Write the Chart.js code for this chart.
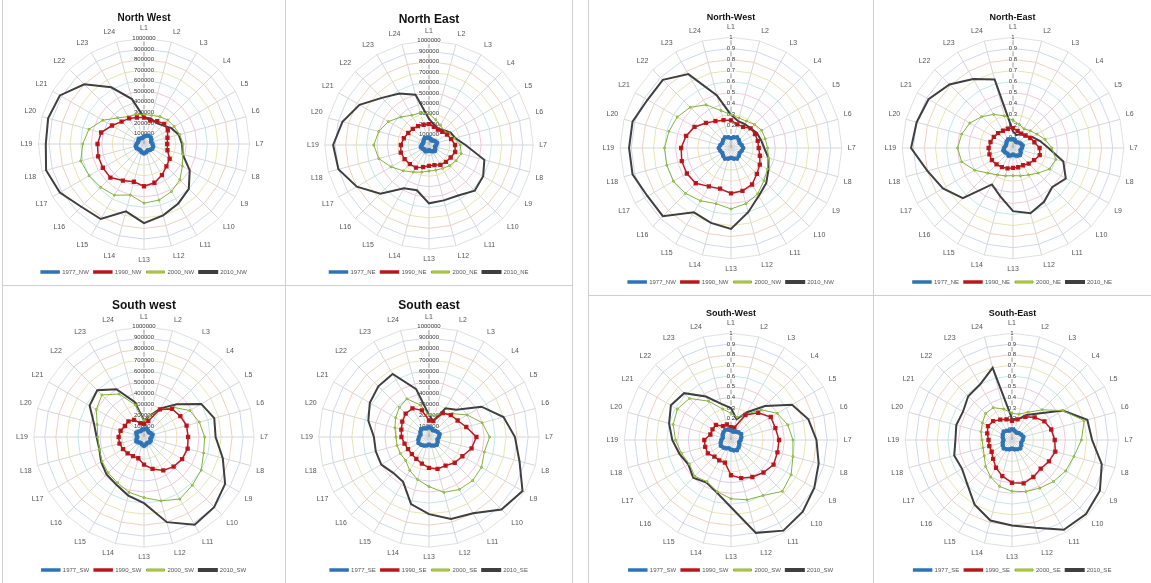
<!DOCTYPE html>
<html>
<head>
<meta charset="utf-8">
<script src="https://cdn.jsdelivr.net/npm/chart.js@4.4.1/dist/chart.umd.min.js"></script>
<style>
  body { margin: 0; background: #fff; width: 1151px; height: 583px; overflow: hidden; position: relative; font-family: "Liberation Sans", Arial, sans-serif; }
  .panel { position: absolute; border: 1px solid #cfcfcf; box-sizing: border-box; background: #fff; }
  .panel canvas { position: absolute; left: 0; top: 0; }
</style>
</head>
<body>
<div class="panel" style="left:2px;top:-1px;width:284px;height:287px"><canvas id="nwL" width="282" height="285"></canvas></div>
<div class="panel" style="left:285px;top:-1px;width:288px;height:287px"><canvas id="neL" width="286" height="285"></canvas></div>
<div class="panel" style="left:2px;top:285px;width:284px;height:299px"><canvas id="swL" width="282" height="297"></canvas></div>
<div class="panel" style="left:285px;top:285px;width:288px;height:299px"><canvas id="seL" width="286" height="297"></canvas></div>

<div class="panel" style="left:588px;top:-1px;width:286px;height:297px"><canvas id="nwR" width="284" height="295"></canvas></div>
<div class="panel" style="left:873px;top:-1px;width:279px;height:297px"><canvas id="neR" width="277" height="295"></canvas></div>
<div class="panel" style="left:588px;top:295px;width:286px;height:289px"><canvas id="swR" width="284" height="287"></canvas></div>
<div class="panel" style="left:873px;top:295px;width:279px;height:289px"><canvas id="seR" width="277" height="287"></canvas></div>

<script>
// spokes
const labels = ['L1','L2','L3','L4','L5','L6','L7','L8','L9','L10','L11','L12',
                'L13','L14','L15','L16','L17','L18','L19','L20','L21','L22','L23','L24'];
const years = ['1977', '1990', '2000', '2010'];

// left group, values in thousands
const nwL_1977 = [70, 80, 90, 90, 80, 70, 80, 90, 90, 80, 70, 80, 90, 80, 70, 70, 80, 80, 70, 60, 60, 70, 60, 60];
const nwL_1990 = [250, 230, 250, 270, 260, 230, 220, 230, 280, 300, 340, 380, 400, 370, 400, 450, 450, 450, 440, 420, 350, 300, 280, 260];
const nwL_2000 = [280, 280, 300, 320, 330, 350, 370, 380, 420, 480, 520, 550, 560, 500, 560, 580, 600, 620, 580, 540, 450, 350, 300, 290];
const nwL_2010 = [250, 250, 230, 250, 300, 340, 360, 380, 500, 600, 650, 700, 750, 660, 820, 840, 920, 960, 930, 940, 920, 800, 620, 440];

const neL_1977 = [70, 60, 50, 60, 70, 80, 70, 60, 70, 80, 70, 60, 50, 60, 70, 60, 70, 80, 70, 60, 60, 70, 80, 70];
const neL_1990 = [200, 180, 170, 180, 200, 220, 250, 260, 240, 230, 220, 200, 200, 220, 250, 260, 270, 280, 270, 250, 230, 220, 210, 200];
const neL_2000 = [300, 250, 220, 200, 220, 250, 300, 320, 300, 280, 260, 250, 250, 270, 300, 350, 420, 500, 530, 500, 450, 380, 330, 320];
const neL_2010 = [250, 200, 180, 200, 240, 260, 350, 550, 600, 620, 560, 550, 560, 450, 480, 660, 800, 900, 920, 860, 770, 640, 570, 500];

const swL_1977 = [70, 80, 70, 60, 70, 80, 70, 60, 70, 70, 60, 70, 80, 70, 60, 70, 80, 70, 60, 70, 80, 70, 60, 70];
const swL_1990 = [120, 150, 290, 360, 380, 400, 400, 410, 400, 380, 350, 300, 250, 200, 200, 210, 220, 230, 230, 220, 200, 200, 180, 130];
const swL_2000 = [150, 200, 280, 380, 480, 520, 550, 560, 600, 620, 650, 600, 550, 520, 480, 460, 440, 420, 420, 440, 500, 540, 450, 300];
const swL_2010 = [150, 200, 300, 420, 600, 660, 650, 740, 850, 900, 920, 800, 600, 550, 500, 480, 450, 420, 430, 470, 570, 600, 500, 330];

const seL_1977 = [90, 80, 70, 80, 90, 100, 90, 80, 90, 100, 90, 80, 70, 80, 90, 100, 110, 100, 90, 80, 90, 100, 90, 80];
const seL_1990 = [150, 150, 250, 280, 300, 350, 430, 400, 350, 330, 300, 300, 280, 250, 230, 220, 220, 230, 250, 260, 280, 300, 300, 250];
const seL_2000 = [200, 200, 250, 300, 400, 500, 550, 520, 550, 560, 550, 520, 450, 400, 350, 300, 300, 300, 300, 320, 350, 380, 400, 300];
const seL_2010 = [200, 150, 300, 350, 550, 700, 780, 850, 980, 930, 800, 770, 700, 630, 470, 460, 500, 500, 500, 570, 620, 650, 660, 450];

// right group, shares 0..1
const nwR_1977 = [0.09, 0.10, 0.11, 0.10, 0.09, 0.10, 0.11, 0.10, 0.09, 0.10, 0.11, 0.10, 0.09, 0.10, 0.11, 0.10, 0.09, 0.10, 0.11, 0.10, 0.09, 0.10, 0.11, 0.10];
const nwR_1990 = [0.25, 0.22, 0.22, 0.25, 0.25, 0.25, 0.25, 0.27, 0.30, 0.33, 0.38, 0.40, 0.41, 0.38, 0.40, 0.45, 0.46, 0.46, 0.45, 0.42, 0.38, 0.32, 0.28, 0.26];
const nwR_2000 = [0.30, 0.28, 0.28, 0.30, 0.32, 0.32, 0.33, 0.35, 0.38, 0.42, 0.48, 0.52, 0.55, 0.52, 0.55, 0.58, 0.60, 0.60, 0.60, 0.58, 0.56, 0.52, 0.45, 0.35];
const nwR_2010 = [0.30, 0.25, 0.25, 0.25, 0.27, 0.28, 0.30, 0.35, 0.39, 0.45, 0.50, 0.60, 0.73, 0.70, 0.67, 0.87, 0.87, 0.92, 0.92, 0.92, 0.87, 0.87, 0.77, 0.49];

const neR_1977 = [0.08, 0.07, 0.06, 0.07, 0.08, 0.09, 0.08, 0.07, 0.08, 0.09, 0.08, 0.07, 0.06, 0.07, 0.08, 0.07, 0.08, 0.09, 0.08, 0.07, 0.07, 0.08, 0.09, 0.08];
const neR_1990 = [0.18, 0.16, 0.15, 0.16, 0.18, 0.20, 0.24, 0.25, 0.22, 0.20, 0.18, 0.18, 0.18, 0.19, 0.20, 0.21, 0.22, 0.22, 0.22, 0.21, 0.20, 0.19, 0.18, 0.18];
const neR_2000 = [0.25, 0.22, 0.20, 0.22, 0.25, 0.30, 0.35, 0.40, 0.38, 0.32, 0.28, 0.26, 0.25, 0.26, 0.28, 0.32, 0.40, 0.48, 0.50, 0.48, 0.45, 0.40, 0.35, 0.30];
const neR_2010 = [0.15, 0.12, 0.15, 0.15, 0.20, 0.25, 0.32, 0.47, 0.55, 0.50, 0.56, 0.61, 0.57, 0.45, 0.38, 0.64, 0.73, 0.80, 0.92, 0.90, 0.88, 0.81, 0.72, 0.64];

const swR_1977 = [0.09, 0.08, 0.09, 0.10, 0.11, 0.10, 0.09, 0.08, 0.09, 0.10, 0.11, 0.10, 0.09, 0.08, 0.09, 0.10, 0.11, 0.10, 0.09, 0.08, 0.09, 0.10, 0.11, 0.10];
const swR_1990 = [0.12, 0.12, 0.27, 0.36, 0.43, 0.43, 0.45, 0.45, 0.46, 0.43, 0.40, 0.37, 0.33, 0.22, 0.22, 0.22, 0.25, 0.25, 0.25, 0.20, 0.20, 0.20, 0.15, 0.15];
const swR_2000 = [0.25, 0.22, 0.28, 0.40, 0.50, 0.55, 0.58, 0.60, 0.65, 0.68, 0.60, 0.58, 0.55, 0.50, 0.45, 0.48, 0.45, 0.48, 0.52, 0.56, 0.58, 0.55, 0.42, 0.30];
const swR_2010 = [0.30, 0.20, 0.30, 0.45, 0.66, 0.75, 0.80, 0.85, 0.90, 0.95, 0.98, 0.90, 0.63, 0.51, 0.46, 0.50, 0.46, 0.50, 0.55, 0.60, 0.65, 0.62, 0.47, 0.35];

const seR_1977 = [0.10, 0.09, 0.08, 0.09, 0.10, 0.11, 0.10, 0.09, 0.10, 0.11, 0.10, 0.09, 0.08, 0.09, 0.10, 0.11, 0.10, 0.09, 0.08, 0.09, 0.10, 0.11, 0.10, 0.09];
const seR_1990 = [0.18, 0.20, 0.25, 0.30, 0.35, 0.38, 0.40, 0.42, 0.40, 0.38, 0.40, 0.42, 0.40, 0.35, 0.30, 0.25, 0.22, 0.22, 0.22, 0.24, 0.26, 0.25, 0.22, 0.20];
const seR_2000 = [0.25, 0.25, 0.30, 0.40, 0.55, 0.70, 0.65, 0.60, 0.58, 0.55, 0.52, 0.50, 0.48, 0.45, 0.40, 0.35, 0.30, 0.28, 0.28, 0.30, 0.32, 0.35, 0.35, 0.30];
const seR_2010 = [0.20, 0.20, 0.27, 0.35, 0.55, 0.73, 0.75, 0.87, 0.95, 0.98, 0.97, 0.85, 0.80, 0.78, 0.70, 0.59, 0.54, 0.56, 0.53, 0.54, 0.53, 0.58, 0.60, 0.70];

// pastel ring colours, like the office chart
const ringColors = ['#f3c4c4', '#c6dff2', '#d3ebc0', '#f6dfb0', '#dccbef', '#f3c7da', '#c3e7e6', '#e6e6b2', '#efd0c0', '#cfd7f0', '#e0e0e0'];

function buildSets(region, d1977, d1990, d2000, d2010) {
  return [
    { label: years[0] + '_' + region, data: d1977, borderColor: '#2f74b5', backgroundColor: '#2f74b5',
      borderWidth: 1.5, pointRadius: 1.6, pointStyle: 'circle' },
    { label: years[1] + '_' + region, data: d1990, borderColor: '#c0181f', backgroundColor: '#8b1a1a',
      borderWidth: 1.5, pointRadius: 2, pointStyle: 'rect' },
    { label: years[2] + '_' + region, data: d2000, borderColor: '#7fb241', backgroundColor: '#e5d23a',
      borderWidth: 1, pointRadius: 1, pointStyle: 'circle' },
    { label: years[3] + '_' + region, data: d2010, borderColor: '#3f3f3f', backgroundColor: '#3f3f3f',
      borderWidth: 2, pointRadius: 0 },
  ];
}

function makeRadar(id, title, titleSize, datasets, max, step, fmt) {
  return new Chart(document.getElementById(id), {
    type: 'radar',
    data: { labels: labels, datasets: datasets },
    options: {
      responsive: false,
      animation: false,
      elements: { line: { fill: false, tension: 0 } },
      layout: { padding: { top: 2, bottom: 0, left: 2, right: 2 } },
      plugins: {
        title: { display: true, text: title, color: '#111', font: { size: titleSize, weight: 'bold' }, padding: { top: 10, bottom: 0 } },
        legend: {
          position: 'bottom',
          labels: { boxWidth: 18, boxHeight: 2, font: { size: 6 }, color: '#555', padding: 5 },
        },
        tooltip: { enabled: false },
      },
      scales: {
        r: {
          min: 0,
          max: max,
          ticks: {
            stepSize: step,
            font: { size: 6 },
            color: '#333',
            backdropColor: '#fff',
            backdropPadding: 0,
            callback: fmt,
          },
          grid: { color: ringColors, lineWidth: 1 },
          angleLines: { color: (ctx) => ctx.index === 0 ? '#9a9a9a' : '#d6d6d6' },
          pointLabels: { font: { size: 7 }, color: '#555', padding: 3 },
        },
      },
    },
  });
}

const fmtL = (v) => String(Math.round(v * 1000));
const fmtR = (v) => String(Math.round(v * 10) / 10);

makeRadar('nwL', 'North West', 10, buildSets('NW', nwL_1977, nwL_1990, nwL_2000, nwL_2010), 1000, 100, fmtL);
makeRadar('neL', 'North East', 12, buildSets('NE', neL_1977, neL_1990, neL_2000, neL_2010), 1000, 100, fmtL);
makeRadar('swL', 'South west', 12, buildSets('SW', swL_1977, swL_1990, swL_2000, swL_2010), 1000, 100, fmtL);
makeRadar('seL', 'South east', 12, buildSets('SE', seL_1977, seL_1990, seL_2000, seL_2010), 1000, 100, fmtL);

makeRadar('nwR', 'North-West', 9, buildSets('NW', nwR_1977, nwR_1990, nwR_2000, nwR_2010), 1, 0.1, fmtR);
makeRadar('neR', 'North-East', 9, buildSets('NE', neR_1977, neR_1990, neR_2000, neR_2010), 1, 0.1, fmtR);
makeRadar('swR', 'South-West', 9, buildSets('SW', swR_1977, swR_1990, swR_2000, swR_2010), 1, 0.1, fmtR);
makeRadar('seR', 'South-East', 9, buildSets('SE', seR_1977, seR_1990, seR_2000, seR_2010), 1, 0.1, fmtR);
</script>
</body>
</html>
